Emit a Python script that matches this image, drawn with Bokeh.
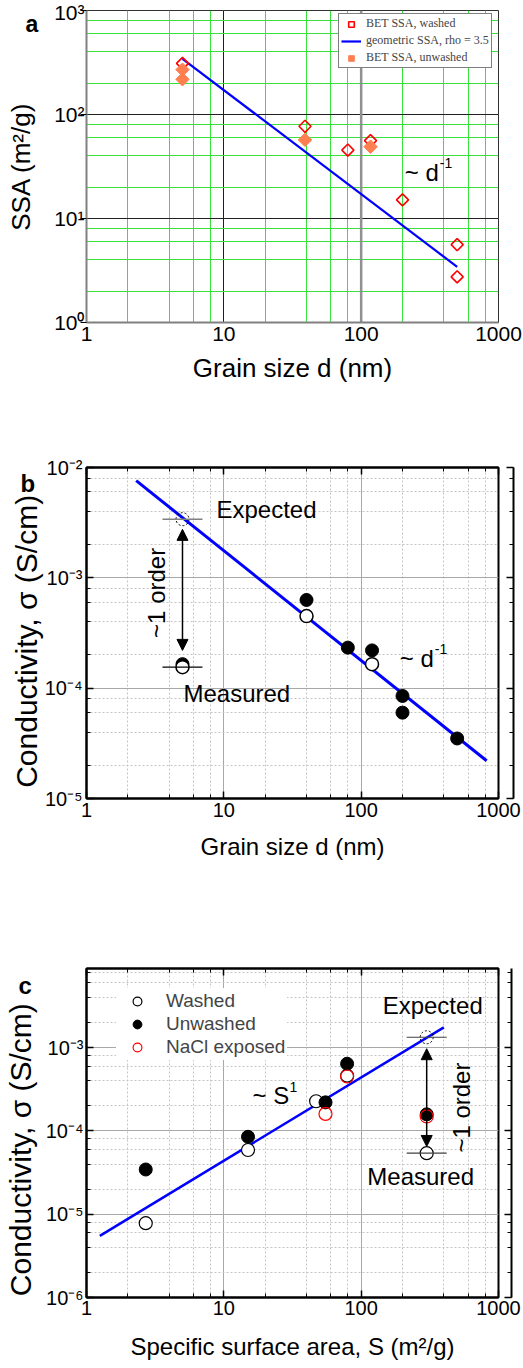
import numpy as np
from bokeh.plotting import figure
from bokeh.models import (LogAxis, LogTicker, Label, Legend, LegendItem, Arrow,
                          NormalHead, Span, CustomJSTickFormatter, Range1d)
from bokeh.layouts import column
from bokeh.embed import file_html
from bokeh.resources import INLINE

SANS = "Liberation Sans"
SERIF = "Liberation Serif"

# ---------------- data ----------------
# panel a : SSA vs grain size
a_washed_d = [5, 39, 80, 117, 200, 500, 500]
a_washed_ssa = [310, 77, 45.5, 56, 15.1, 5.6, 2.75]
a_unwashed_d = [5, 5, 39, 117]
a_unwashed_ssa = [270, 218, 57, 49]
a_geo_d = [5, 500]
a_geo_ssa = [343, 3.43]
a_slope_pos = (208, 27.7)

# panel b : conductivity vs grain size
b_unwashed_d = [5, 40, 80, 120, 200, 200, 500]
b_unwashed_sigma = [1.65e-4, 6.3e-4, 2.33e-4, 2.2e-4, 8.5e-5, 6.0e-5, 3.5e-5]
b_washed_d = [5, 40, 120]
b_washed_sigma = [1.55e-4, 4.5e-4, 1.65e-4]
b_fit_d = [2.3, 820]
b_fit_sigma = [7.6e-3, 2.2e-5]
b_expected_d = [5]
b_expected_sigma = [3.4e-3]
b_measured_d = [5]
b_measured_sigma = [1.55e-4]
b_arrow_sigma = [2.75e-3, 2.2e-4]
b_slope_pos = (191, 1.87e-4)

# panel c : conductivity vs specific surface area
c_washed_S = [2.7, 15, 47, 79, 300]
c_washed_sigma = [7.8e-6, 5.9e-5, 2.27e-4, 4.6e-4, 5.4e-5]
c_unwashed_S = [2.7, 15, 55, 79, 300]
c_unwashed_sigma = [3.44e-5, 8.5e-5, 2.2e-4, 6.4e-4, 1.58e-4]
c_nacl_S = [55, 79, 300]
c_nacl_sigma = [1.6e-4, 4.5e-4, 1.49e-4]
c_fit_S = [1.25, 400]
c_fit_sigma = [5.5e-6, 1.75e-3]
c_expected_S = [300]
c_expected_sigma = [1.33e-3]
c_measured_S = [300]
c_measured_sigma = [5.4e-5]
c_arrow_sigma = [9.7e-4, 6.5e-5]
c_slope_pos = (16.2, 2.65e-4)

W = 523
GREEN = "#3CE03C"
NBSP = "\u00a0"

SUP_JS = r"""
const sup = {"0":"\u2070","1":"\u00b9","2":"\u00b2","3":"\u00b3","4":"\u2074",
             "5":"\u2075","6":"\u2076","7":"\u2077","8":"\u2078","9":"\u2079","-":"\u207b"};
const e = Math.round(Math.log10(tick));
return "10" + String(e).split("").map(c => sup[c]).join("");
"""


def base_fig(height, y_range, left, right, top, bottom, tick_size, standoff):
    p = figure(width=W, height=height, x_axis_type="log", y_axis_type="log",
               x_range=Range1d(1, 1000), y_range=Range1d(*y_range),
               output_backend="svg", toolbar_location=None,
               min_border_left=left, min_border_right=right,
               min_border_top=top, min_border_bottom=bottom)
    p.background_fill_color = "white"
    p.border_fill_color = "white"
    xt = LogTicker(mantissas=[1])
    yt = LogTicker(mantissas=[1])
    xax = p.below[0]
    yax = p.left[0]
    xax.ticker = xt
    yax.ticker = yt
    p.xgrid.ticker = xt
    p.ygrid.ticker = yt
    xax.formatter = CustomJSTickFormatter(code="return String(Math.round(tick));")
    yax.formatter = CustomJSTickFormatter(code=SUP_JS)
    for ax in (xax, yax):
        ax.major_label_text_font = SANS
        ax.major_label_text_font_size = f"{tick_size}px"
        ax.major_label_text_color = "black"
        ax.axis_label_text_font = SANS
        ax.axis_label_text_font_style = "normal"
        ax.axis_label_text_color = "black"
    xax.major_label_standoff = standoff
    return p, xt, yt, xax, yax


def txt(p, x, y, text, size, dx=0, dy=0, align="left", baseline="middle",
        angle=0, bold=False, color="black", font=SANS, side=None):
    lab = Label(x=x, y=y, x_offset=dx, y_offset=dy, text=text,
                text_font=font, text_font_size=f"{size}px",
                text_align=align, text_baseline=baseline, angle=angle,
                text_color=color, text_font_style="bold" if bold else "normal")
    if side is None:
        p.add_layout(lab)
    else:
        p.add_layout(lab, side)


def box_style(p, xt, yt, xax, yax):
    for ax in (xax, yax):
        ax.axis_line_width = 2
        ax.axis_line_color = "black"
        ax.major_tick_in = 7
        ax.major_tick_out = 0
        ax.minor_tick_in = 4
        ax.minor_tick_out = 0
        ax.major_tick_line_color = "black"
        ax.minor_tick_line_color = "black"
        ax.major_tick_line_width = 1.5
        ax.minor_tick_line_width = 1
    for t, loc in ((xt, "above"), (yt, "right")):
        ax = LogAxis(ticker=t, formatter=CustomJSTickFormatter(code="return '';"),
                     axis_line_width=2, axis_line_color="black",
                     major_tick_in=7, major_tick_out=0, minor_tick_in=4, minor_tick_out=0,
                     major_tick_line_color="black", minor_tick_line_color="black",
                     major_tick_line_width=1.5, minor_tick_line_width=1,
                     major_label_standoff=0)
        p.add_layout(ax, loc)
    p.outline_line_color = "black"
    p.outline_line_width = 2
    for g in (p.xgrid, p.ygrid):
        g.grid_line_color = "#A8A8A8"
        g.grid_line_width = 1
        g.minor_grid_line_color = "#C4C4C4"
        g.minor_grid_line_dash = "2 2"
        g.minor_grid_line_width = 1


# ---------------- panel a ----------------
pa, axt, ayt, ax_x, ax_y = base_fig(400, (1, 1000), 79, 25, 10, 78, 21, 4)
for g in (pa.xgrid, pa.ygrid):
    g.grid_line_color = "#202020"
    g.grid_line_width = 1
    g.minor_grid_line_color = GREEN
    g.minor_grid_line_width = 1
pa.outline_line_color = "#303030"
pa.outline_line_width = 1
ax_x.axis_line_color = "#808080"
ax_x.axis_line_width = 2
ax_x.major_tick_out = 0
ax_x.major_tick_in = 0
ax_x.minor_tick_out = 0
ax_x.minor_tick_in = 0
ax_y.axis_line_color = "#808080"
ax_y.axis_line_width = 2
ax_y.major_tick_out = 6
ax_y.major_tick_in = 0
ax_y.major_tick_line_color = "black"
ax_y.minor_tick_out = 0
ax_y.minor_tick_in = 0
ax_y.major_label_standoff = -4
ax_y.axis_label = "SSA (m²/g)"
ax_y.axis_label_text_font_size = "26px"
ax_y.axis_label_standoff = 15
ax_x.axis_label = "Grain size d (nm)"
ax_x.axis_label_text_font_size = "26px"
ax_x.axis_label_standoff = 9
pa.add_layout(Span(location=100, dimension="height", line_color="#909090",
                   line_width=2.5, level="underlay"))

r_geo = pa.line(a_geo_d, a_geo_ssa, line_color="#0000FF", line_width=2.2)
r_wash = pa.scatter(a_washed_d, a_washed_ssa, marker="square", angle=np.pi / 4,
                    size=8.5, fill_color=None, line_color="#FF0000", line_width=1.6)
r_unwash = pa.scatter(a_unwashed_d, a_unwashed_ssa, marker="square", angle=np.pi / 4,
                      size=9.5, fill_color="#FF7F50", line_color="#FF7F50", line_width=1)
leg_a = Legend(items=[LegendItem(label="BET SSA, washed", renderers=[r_wash]),
                      LegendItem(label="geometric SSA, rho = 3.5", renderers=[r_geo]),
                      LegendItem(label="BET SSA, unwashed", renderers=[r_unwash])],
               location=(252, 254), label_text_font=SERIF, label_text_font_size="12px",
               glyph_width=20, glyph_height=14, label_height=14, label_standoff=5,
               padding=2, spacing=2, margin=0, border_line_color="black",
               border_line_width=1, background_fill_color="white", background_fill_alpha=1)
pa.add_layout(leg_a)
txt(pa, 1, 1000, "a", 23, dx=-61, dy=-13, baseline="alphabetic", bold=True, side="right")
txt(pa, a_slope_pos[0], a_slope_pos[1], "~ d", 24)
txt(pa, a_slope_pos[0], a_slope_pos[1], "-1", 14, dx=35, dy=9)

# ---------------- panel b ----------------
pb, bxt, byt, bx_x, bx_y = base_fig(480, (1e-5, 1e-2), 83, 23, 67, 82, 20, 4)
txt(pb, 1, 1e-2, "b", 24, dx=-66, dy=-16, baseline="alphabetic", bold=True, side="right")
box_style(pb, bxt, byt, bx_x, bx_y)
bx_y.major_label_standoff = 4
bx_y.axis_label = "Conductivity, σ (S/cm)" + NBSP * 2
bx_y.axis_label_text_font_size = "30px"
bx_y.axis_label_standoff = -1
bx_x.axis_label = "Grain size d (nm)"
bx_x.axis_label_text_font_size = "24px"
bx_x.axis_label_standoff = 13
pb.line(b_fit_d, b_fit_sigma, line_color="#0000FF", line_width=3)
pb.scatter(b_unwashed_d, b_unwashed_sigma, marker="circle", size=13,
           fill_color="black", line_color="black")
pb.scatter(b_washed_d, b_washed_sigma, marker="circle", size=13,
           fill_color="white", line_color="black", line_width=1.5)
pb.scatter(b_expected_d, b_expected_sigma, marker="circle", size=13,
           fill_color=None, line_color="black", line_dash="2 2", line_width=1)
pb.scatter(b_expected_d, b_expected_sigma, marker="dash", size=40,
           line_color="#808080", line_width=1.5)
pb.scatter(b_measured_d, b_measured_sigma, marker="dash", size=40,
           line_color="black", line_width=1.2)
pb.add_layout(Arrow(x_start=b_expected_d[0], y_start=b_arrow_sigma[0],
                    x_end=b_expected_d[0], y_end=b_arrow_sigma[1], line_width=1.5,
                    start=NormalHead(size=11, fill_color="black", line_color="black"),
                    end=NormalHead(size=11, fill_color="black", line_color="black")))
txt(pb, b_expected_d[0], b_expected_sigma[0], "Expected", 24, dx=34, dy=10)
txt(pb, b_measured_d[0], b_measured_sigma[0], "Measured", 24, dx=1, dy=-26)
txt(pb, b_expected_d[0], float(np.sqrt(b_arrow_sigma[0] * b_arrow_sigma[1])), "~1 order", 24,
    dx=-26, dy=-3, align="center", angle=np.pi / 2)
txt(pb, b_slope_pos[0], b_slope_pos[1], "~ d", 24)
txt(pb, b_slope_pos[0], b_slope_pos[1], "-1", 14, dx=35, dy=9)

# ---------------- panel c ----------------
pc, cxt, cyt, cx_x, cx_y = base_fig(488, (1e-6, 8.9e-3), 85, 24, 88, 71, 20, 3)
txt(pc, 1, 8.9e-3, "c", 24, dx=-68, dy=-17, baseline="alphabetic", bold=True, side="right")
box_style(pc, cxt, cyt, cx_x, cx_y)
cx_y.major_label_standoff = 3
cx_y.axis_label = "Conductivity, σ (S/cm)" + NBSP * 4
cx_y.axis_label_text_font_size = "30px"
cx_y.axis_label_standoff = 6
cx_x.axis_label = "Specific surface area, S (m²/g)"
cx_x.axis_label_text_font_size = "24px"
cx_x.axis_label_standoff = 15
pc.line(c_fit_S, c_fit_sigma, line_color="#0000FF", line_width=2.5)
r_cw = pc.scatter(c_washed_S, c_washed_sigma, marker="circle", size=13,
                  fill_color="white", line_color="black", line_width=1.2)
r_cu = pc.scatter(c_unwashed_S, c_unwashed_sigma, marker="circle", size=13,
                  fill_color="black", line_color="black")
r_cn = pc.scatter(c_nacl_S, c_nacl_sigma, marker="circle", size=13,
                  fill_color=None, line_color="#FF0000", line_width=1.2)
pc.scatter(c_expected_S, c_expected_sigma, marker="circle", size=13,
           fill_color=None, line_color="black", line_dash="2 2", line_width=1)
pc.scatter(c_expected_S, c_expected_sigma, marker="dash", size=40,
           line_color="#404040", line_width=1.2)
pc.scatter(c_measured_S, c_measured_sigma, marker="dash", size=40,
           line_color="#404040", line_width=1.2)
pc.add_layout(Arrow(x_start=c_expected_S[0], y_start=c_arrow_sigma[0],
                    x_end=c_expected_S[0], y_end=c_arrow_sigma[1], line_width=1.5,
                    start=NormalHead(size=11, fill_color="black", line_color="black"),
                    end=NormalHead(size=11, fill_color="black", line_color="black")))
leg_c = Legend(items=[LegendItem(label="Washed", renderers=[r_cw]),
                      LegendItem(label="Unwashed", renderers=[r_cu]),
                      LegendItem(label="NaCl exposed", renderers=[r_cn])],
               location=(30, 237), label_text_font=SANS, label_text_font_size="19px",
               glyph_width=38, glyph_height=22, label_height=22, label_standoff=10,
               padding=2, spacing=1, margin=0, border_line_alpha=0,
               background_fill_color="white", background_fill_alpha=1)
pc.add_layout(leg_c)
txt(pc, c_expected_S[0], c_expected_sigma[0], "Expected", 24, dx=6, dy=32, align="center")
txt(pc, c_measured_S[0], c_measured_sigma[0], "Measured", 24, dx=-6, dy=-23, align="center")
txt(pc, c_expected_S[0], float(np.sqrt(c_arrow_sigma[0] * c_arrow_sigma[1])), "~1 order", 24,
    dx=35, dy=-10, align="center", angle=np.pi / 2)
txt(pc, c_slope_pos[0], c_slope_pos[1], "~ S", 24)
txt(pc, c_slope_pos[0], c_slope_pos[1], "1", 14, dx=37, dy=9)

layout = column(pa, pb, pc, spacing=0)
open("out.html", "w").write(file_html(layout, INLINE))
